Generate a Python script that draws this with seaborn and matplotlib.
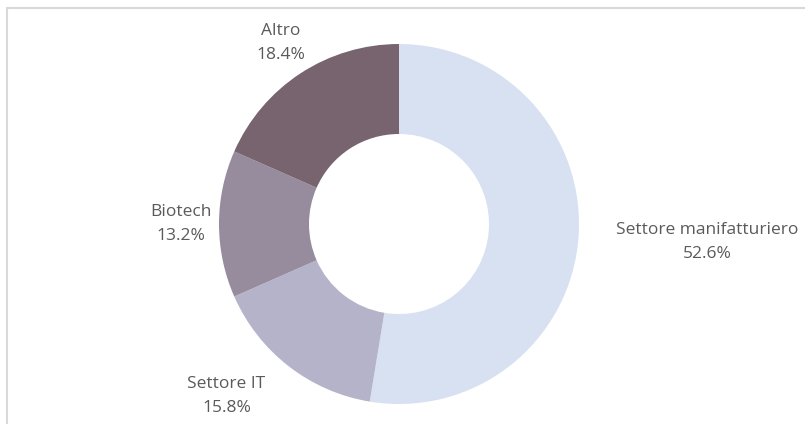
import matplotlib
matplotlib.use("Agg")
import matplotlib.pyplot as plt
import numpy as np
import seaborn as sns
from matplotlib.lines import Line2D

# Sector shares (percent)
sectors = ["Settore manifatturiero", "Settore IT", "Biotech", "Altro"]
shares = [52.6, 15.8, 13.2, 18.4]
colors = ["#d7e1f1", "#b4b3c9", "#978c9d", "#77646f"]

sns.set_theme(style="white")
plt.rcParams["font.family"] = ["Open Sans", "DejaVu Sans"]

W, H = 805, 424
fig = plt.figure(figsize=(W / 100, H / 100), dpi=100)
fig.patch.set_facecolor("white")

# Donut centre and outer radius in pixels
cx, cy, R = 399, 200, 180
half = 200
ax = fig.add_axes([(cx - half) / W, (cy - half) / H, 2 * half / W, 2 * half / H])
ax.axis("off")

palette = sns.color_palette(colors)
wedges, _ = ax.pie(
    shares,
    colors=palette,
    startangle=90,
    counterclock=False,
    radius=1.0,
    wedgeprops=dict(width=0.5, linewidth=0),
)
ax.set_xlim(-half / R, half / R)
ax.set_ylim(-half / R, half / R)
ax.set_aspect("equal")

# Label placement: radial distance and horizontal anchor per slice
label_dist = [1.21, 1.21, 1.04, 1.20]
label_ha = ["left", "right", "right", "center"]
for w, name, val, d, ha in zip(wedges, sectors, shares, label_dist, label_ha):
    ang = np.deg2rad((w.theta1 + w.theta2) / 2)
    x, y = d * np.cos(ang), d * np.sin(ang)
    ax.text(x, y, f"{name}\n{val:.1f}%", ha=ha, va="center",
            multialignment="center", fontsize=12.5, color="#5a5a5a",
            linespacing=1.7, clip_on=False)

# Light frame along the top and left edges
frame_kw = dict(color="#d9d9d9", linewidth=1.5, transform=fig.transFigure)
fig.add_artist(Line2D([7 / W, 1.0], [1 - 8 / H, 1 - 8 / H], **frame_kw))
fig.add_artist(Line2D([7 / W, 7 / W], [0, 1 - 8 / H], **frame_kw))

fig.savefig("out.png", dpi=100, facecolor="white")
